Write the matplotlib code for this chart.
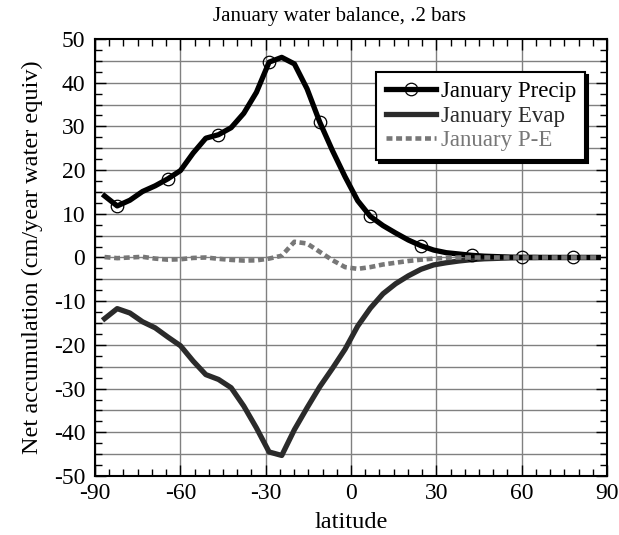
import numpy as np
import matplotlib
matplotlib.use("Agg")
import matplotlib.pyplot as plt
from matplotlib.ticker import MultipleLocator

plt.rcParams['font.family'] = ['Liberation Serif', 'DejaVu Serif']
plt.rcParams['axes.unicode_minus'] = False

# latitude of each model band (deg)
lat = [-86.65, -82.2, -77.75, -73.3, -68.85, -64.4, -59.95, -55.5, -51.05, -46.6,
       -42.15, -37.7, -33.25, -28.8, -24.35, -19.9, -15.45, -11.0, -6.55, -2.1,
       2.35, 6.8, 11.25, 15.7, 20.15, 24.6, 29.05, 33.5, 37.95, 42.4,
       46.85, 51.3, 55.75, 60.2, 64.65, 69.1, 73.55, 78.0, 82.45, 86.9]

precip = [14.1, 11.8, 13.1, 15.1, 16.4, 18.0, 19.9, 23.9, 27.3, 28.1,
          29.7, 33.0, 37.8, 44.7, 45.8, 44.3, 38.6, 31.0, 24.5, 18.5,
          13.0, 9.4, 7.3, 5.6, 4.0, 2.7, 1.7, 1.1, 0.8, 0.5,
          0.3, 0.2, 0.1, 0.05, 0.05, 0.0, 0.0, 0.0, 0.0, 0.0]

evap = [-14.0, -11.7, -12.7, -14.7, -16.1, -18.2, -20.2, -23.7, -26.8, -27.9,
        -29.8, -34.0, -39.0, -44.5, -45.3, -39.4, -34.4, -29.6, -25.4, -21.0,
        -15.7, -11.6, -8.3, -6.0, -4.2, -2.7, -1.7, -1.2, -0.8, -0.5,
        -0.3, -0.2, -0.1, -0.05, -0.05, 0.0, 0.0, 0.0, 0.0, 0.0]

p_minus_e = [0.1, -0.15, 0.0, 0.15, -0.25, -0.5, -0.4, -0.1, 0.0, -0.3,
             -0.55, -0.7, -0.65, -0.25, 0.4, 3.6, 3.2, 1.3, -0.6, -2.2,
             -2.6, -2.2, -1.6, -1.2, -0.8, -0.5, -0.25, -0.1, 0.0, 0.0,
             0.0, 0.0, 0.0, 0.0, 0.0, 0.0, 0.0, 0.0, 0.0, 0.0]

fig = plt.figure(figsize=(6.19, 5.35), dpi=100)
ax = fig.add_axes([0.1535, 0.1103, 0.8271, 0.8168])

ax.plot(lat, precip, color='black', lw=3.8, marker='o', markersize=9,
        markerfacecolor='none', markeredgecolor='black', markeredgewidth=0.9,
        markevery=(1, 4), label='January Precip', zorder=4)
ax.plot(lat, evap, color='#2b2b2b', lw=3.8, label='January Evap', zorder=3)
ax.plot(lat, p_minus_e, color='#777777', lw=3.3, dashes=(1.3, 0.8),
        label='January P-E', zorder=5)

ax.set_xlim(-90, 90)
ax.set_ylim(-50, 50)
ax.xaxis.set_major_locator(MultipleLocator(30))
ax.xaxis.set_minor_locator(MultipleLocator(5))
ax.yaxis.set_major_locator(MultipleLocator(10))
ax.yaxis.set_minor_locator(MultipleLocator(2.5))

# grid: verticals every 30 deg, horizontals every 5 units
ax.grid(True, which='major', axis='x', color='#808080', lw=1.0)
for v in np.arange(-45, 50, 5):
    ax.axhline(v, color='#808080', lw=1.0, zorder=0)
ax.set_axisbelow(True)

ax.tick_params(which='both', direction='in', top=True, right=True,
               labelsize=17, colors='black')
ax.tick_params(axis='y', pad=7)
ax.tick_params(axis='x', pad=5)
ax.tick_params(which='major', length=8, width=1)
ax.tick_params(which='minor', length=5, width=1)
for s in ax.spines.values():
    s.set_linewidth(1.5)

ax.set_title('January water balance, .2 bars', fontsize=15, pad=13, x=0.477)
ax.set_xlabel('latitude', fontsize=17.5, labelpad=6)
ax.set_ylabel('Net accumulation (cm/year water equiv)', fontsize=17.5, labelpad=8)

leg = ax.legend(loc='upper right', bbox_to_anchor=(0.957, 0.9245),
                borderaxespad=0, fontsize=16.5, frameon=True, fancybox=False,
                shadow={'color': 'black', 'alpha': 1}, handlelength=2.2,
                handletextpad=0.2, labelspacing=0.15, borderpad=0.4)
leg.get_frame().set_edgecolor('black')
leg.get_frame().set_linewidth(1.5)
leg.get_frame().set_alpha(1)
text_colors = ['black', '#2b2b2b', '#777777']
for t, c in zip(leg.get_texts(), text_colors):
    t.set_color(c)

fig.savefig('out.png', dpi=100)
